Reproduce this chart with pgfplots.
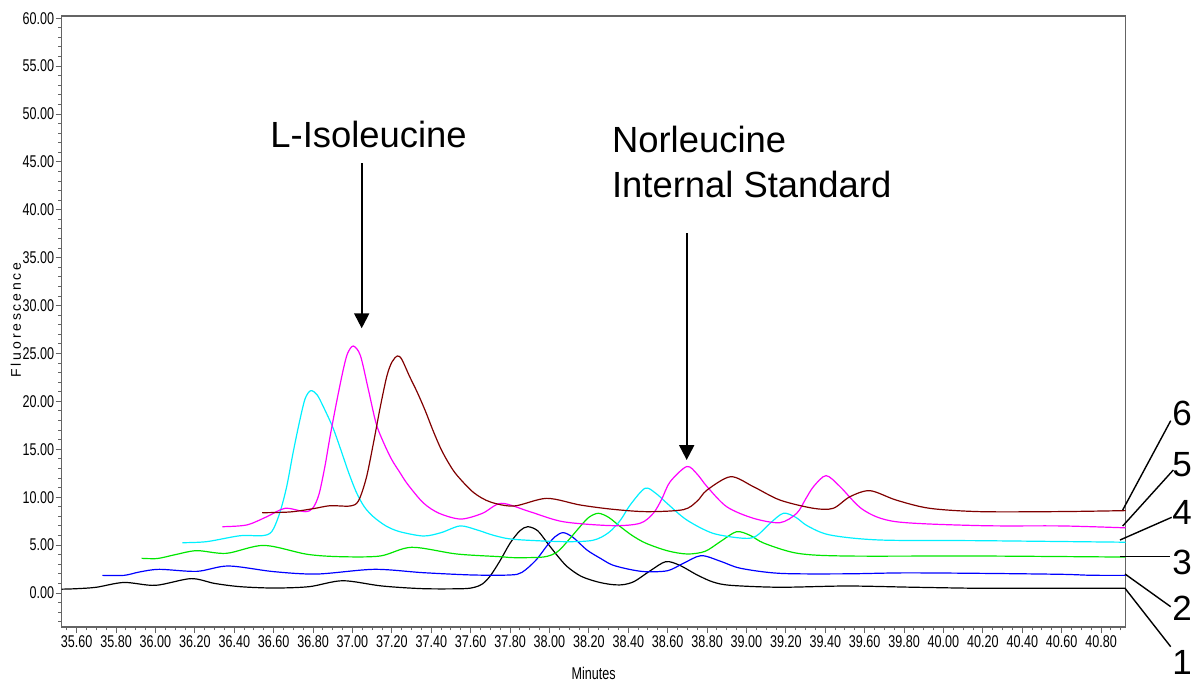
\documentclass[border=0pt]{standalone}
\usepackage{fontspec}
\setmainfont{Liberation Sans}
\newfontfamily\narrowfont[FakeStretch=0.74]{Liberation Sans}
\newfontfamily\spacedfont[LetterSpace=20]{Liberation Sans}
\usepackage{pgfplots}
\pgfplotsset{compat=1.18}
\usetikzlibrary{arrows.meta}
\definecolor{tr1}{RGB}{0,0,0}
\definecolor{tr2}{RGB}{0,0,255}
\definecolor{tr3}{RGB}{0,230,0}
\definecolor{tr4}{RGB}{0,240,255}
\definecolor{tr5}{RGB}{255,0,255}
\definecolor{tr6}{RGB}{128,0,0}
\definecolor{axgray}{RGB}{100,100,100}
\begin{document}
\begin{tikzpicture}
\useasboundingbox (0,0) rectangle (599.5pt,341pt);
\begin{axis}[
  at={(30.85pt,27.5pt)}, anchor=south west,
  scale only axis, width=532pt, height=305.5pt,
  xmin=35.524, xmax=40.925, ymin=-3.55, ymax=60.23,
  xtick={35.6,35.8,...,40.81},
  minor xtick={35.55,35.60,...,40.91},
  ytick={0,5,...,60},
  minor ytick={-3,-2,...,60},
  xtick pos=bottom, ytick pos=left,
  tick align=outside,
  major tick length=3pt, minor tick length=1.7pt,
  axis line style={axgray, line width=0.6pt},
  every tick/.style={axgray, line width=0.5pt},
  tick label style={font=\narrowfont\fontsize{8.5}{10}\selectfont, text=black},
  xticklabel style={inner sep=1.2pt},
  yticklabel style={inner sep=0.6pt},
  /pgf/number format/.cd, fixed, fixed zerofill, precision=2, assume math mode=true,
  /pgfplots/.cd,
  xlabel={Minutes},
  xlabel style={at={(axis description cs:0.5,0)}, anchor=center, yshift=-23pt, font=\narrowfont\fontsize{8.5}{10}\selectfont},
  ylabel={Fluorescence},
  ylabel style={at={(axis description cs:-0.043,0.5025)}, anchor=center, font=\spacedfont\fontsize{7}{8}\selectfont},
  every axis plot/.append style={line width=0.6pt, smooth, tension=0.5, no marks},
]
% 1 black
\addplot[tr1] coordinates {
(35.524,0.40)(35.60,0.45)(35.70,0.60)(35.84,1.10)(36.00,0.80)(36.18,1.50)(36.30,1.00)
(36.43,0.66)(36.60,0.52)(36.78,0.66)(36.95,1.28)(37.15,0.73)(37.36,0.45)(37.56,0.45)
(37.62,0.6)(37.66,0.95)(37.70,1.8)(37.75,3.4)(37.80,5.2)(37.85,6.5)(37.89,6.92)(37.94,6.5)
(37.99,5.2)(38.04,3.9)(38.09,2.75)(38.16,1.75)(38.24,1.18)(38.31,0.9)(38.37,0.86)(38.43,1.2)
(38.51,2.3)(38.59,3.27)(38.66,2.9)(38.75,1.88)(38.83,1.15)(38.92,0.80)(39.17,0.60)
(39.51,0.73)(39.85,0.60)(40.19,0.49)(40.50,0.50)(40.925,0.50)};
% 2 blue
\addplot[tr2] coordinates {
(35.73,1.84)(35.84,1.84)(35.92,2.2)(36.02,2.47)(36.21,2.26)(36.37,2.82)(36.60,2.23)
(36.82,1.98)(37.11,2.47)(37.36,2.12)(37.61,1.88)(37.80,1.88)(37.86,2.15)(37.93,3.4)
(37.99,5.0)(38.03,5.9)(38.07,6.3)(38.12,5.8)(38.19,4.49)(38.26,3.6)(38.32,2.92)(38.41,2.45)
(38.49,2.22)(38.60,2.33)(38.68,3.1)(38.77,3.9)(38.87,3.3)(38.97,2.58)(39.17,2.05)
(39.50,2.0)(39.80,2.1)(40.19,2.05)(40.60,1.95)(40.75,1.85)(40.925,1.84)};
% 3 green
\addplot[tr3] coordinates {
(35.93,3.62)(36.01,3.60)(36.10,4.0)(36.21,4.42)(36.36,4.14)(36.55,4.97)(36.77,4.04)
(36.94,3.79)(37.14,3.86)(37.30,4.77)(37.53,4.07)(37.75,3.79)(37.82,3.69)(37.97,3.76)
(38.04,4.3)(38.10,5.6)(38.155,6.92)(38.20,7.9)(38.248,8.32)(38.30,7.9)(38.36,6.92)(38.42,6.0)
(38.49,5.19)(38.60,4.4)(38.70,4.07)(38.79,4.35)(38.87,5.4)(38.95,6.4)(39.02,6.0)(39.09,5.19)
(39.26,4.14)(39.51,3.86)(40.19,3.86)(40.925,3.75)};
% 4 cyan
\addplot[tr4] coordinates {
(36.136,5.25)(36.26,5.36)(36.43,5.98)(36.54,5.98)(36.59,6.4)(36.63,8.3)(36.666,11.1)
(36.70,14.8)(36.733,18.06)(36.76,20.3)(36.788,21.12)(36.82,20.7)(36.852,19.45)(36.90,17.3)
(36.94,15.0)(36.98,12.6)(37.02,10.5)(37.06,9.0)(37.106,7.96)(37.17,7.0)(37.24,6.4)
(37.36,5.95)(37.45,6.3)(37.546,7.0)(37.63,6.6)(37.72,6.0)(37.82,5.6)(38.07,5.36)(38.22,5.5)
(38.30,6.3)(38.36,7.6)(38.41,9.2)(38.485,10.93)(38.54,10.4)(38.60,9.3)(38.697,7.62)(38.83,6.23)(38.985,5.71)
(39.05,5.95)(39.12,7.28)(39.187,8.32)(39.25,7.9)(39.31,7.0)(39.425,6.05)(39.68,5.53)(40.19,5.46)
(40.925,5.30)};
% 5 magenta
\addplot[tr5] coordinates {
(36.34,6.92)(36.463,7.1)(36.565,7.96)(36.658,8.84)(36.76,8.49)(36.80,8.9)(36.83,10.3)(36.86,13.2)
(36.886,16.3)(36.92,20.0)(36.953,23.3)(36.975,25.0)(37.004,25.78)(37.04,24.8)(37.08,21.3)
(37.12,17.7)(37.16,15.6)(37.20,13.9)(37.24,12.6)(37.28,11.35)(37.36,9.4)(37.44,8.32)(37.55,7.72)(37.66,8.32)
(37.756,9.36)(37.90,8.49)(38.07,7.44)(38.32,7.03)(38.46,7.28)(38.527,8.32)(38.57,9.8)(38.612,11.6)
(38.697,13.2)(38.75,12.4)(38.80,11.1)(38.90,9.0)(39.035,7.8)(39.17,7.34)(39.255,8.32)(39.30,9.8)(39.34,11.1)
(39.404,12.25)(39.475,11.1)(39.594,8.66)(39.76,7.44)(40.19,7.03)(40.60,7.0)(40.925,6.8)};
% 6 brown
\addplot[tr6] coordinates {
(36.542,8.38)(36.683,8.46)(36.80,8.8)(36.886,9.11)(36.987,9.08)(37.03,9.6)(37.07,12.0)
(37.106,15.6)(37.14,19.3)(37.174,22.6)(37.20,24.1)(37.228,24.74)(37.25,24.4)(37.29,22.6)(37.33,20.9)
(37.37,19.0)(37.41,16.9)(37.45,15.0)(37.49,13.5)(37.53,12.3)(37.614,10.5)(37.70,9.5)(37.82,9.08)
(37.986,9.88)(38.155,9.19)(38.32,8.74)(38.494,8.49)(38.68,8.7)(38.75,9.6)(38.80,10.75)
(38.92,12.14)(39.035,11.1)(39.17,9.7)(39.34,8.84)(39.44,8.84)(39.525,10.05)(39.627,10.68)
(39.76,9.7)(39.93,8.84)(40.19,8.49)(40.60,8.5)(40.925,8.6)};
\end{axis}
\begin{scope}[x=0.5pt,y=-0.5pt,yshift=341pt]
  \node[anchor=base west, inner sep=0pt, font=\fontsize{18.2}{22}\selectfont] at (270,147.7) {L-Isoleucine};
  \node[anchor=base west, inner sep=0pt, font=\fontsize{18.2}{22}\selectfont] at (611.7,152.7) {Norleucine};
  \node[anchor=base west, inner sep=0pt, font=\fontsize{18.2}{22}\selectfont] at (611.7,197.3) {Internal Standard};
  \draw[line width=1pt, -{Triangle[width=7.5pt,length=7.5pt]}] (361.7,163.3) -- (361.7,328.3);
  \draw[line width=1pt, -{Triangle[width=7.5pt,length=7.5pt]}] (686.7,233.3) -- (686.7,460);
  \begin{scope}[line width=0.7pt]
    \draw (1122.7,510) -- (1170.7,420.7);
    \draw (1122.7,526) -- (1173.3,470);
    \draw (1120,540) -- (1171.7,517.3);
    \draw (1120,556.7) -- (1170,556.7);
    \draw (1125,574) -- (1170.7,606.7);
    \draw (1125,588.3) -- (1170.7,646.7);
  \end{scope}
  \begin{scope}[every node/.style={inner sep=0pt, font=\fontsize{17.5}{20}\selectfont}]
    \node at (1182,413) {6};
    \node at (1182,465) {5};
    \node at (1182,512) {4};
    \node at (1182,562) {3};
    \node at (1182,608) {2};
    \node at (1182,662) {1};
  \end{scope}
\end{scope}
\end{tikzpicture}
\end{document}
